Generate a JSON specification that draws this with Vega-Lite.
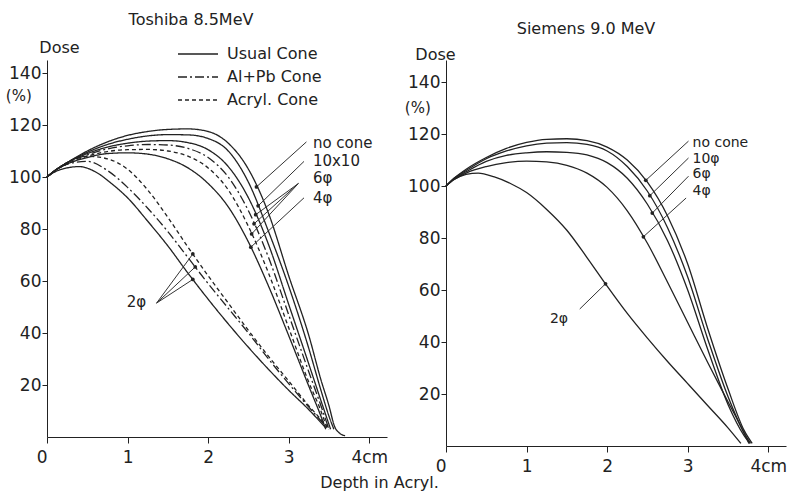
{
  "$schema": "https://vega.github.io/schema/vega-lite/v6.json",
  "background": "white",
  "padding": {"left": 5, "top": 12, "right": 5, "bottom": 5},
  "bounds": "flush",
  "spacing": 59,
  "config": {
    "font": "DejaVu Sans",
    "view": {"stroke": null},
    "axis": {"domainColor": "#222", "tickColor": "#222", "labelColor": "#222", "titleColor": "#222", "grid": false, "labelFont": "DejaVu Sans", "titleFont": "DejaVu Sans"},
    "title": {"color": "#222", "fontWeight": "normal", "fontSize": 16, "font": "DejaVu Sans"},
    "text": {"color": "#222", "font": "DejaVu Sans"}
  },
  "datasets": {
    "tosh": [
      {"curve":"nc","cone":"Usual Cone","d":0,"v":100},{"curve":"nc","cone":"Usual Cone","d":0.1,"v":102.5},{"curve":"nc","cone":"Usual Cone","d":0.25,"v":105.5},{"curve":"nc","cone":"Usual Cone","d":0.5,"v":110},{"curve":"nc","cone":"Usual Cone","d":0.75,"v":113.5},{"curve":"nc","cone":"Usual Cone","d":1,"v":116},{"curve":"nc","cone":"Usual Cone","d":1.25,"v":117.5},{"curve":"nc","cone":"Usual Cone","d":1.5,"v":118.3},{"curve":"nc","cone":"Usual Cone","d":1.75,"v":118.5},{"curve":"nc","cone":"Usual Cone","d":2,"v":117.5},{"curve":"nc","cone":"Usual Cone","d":2.25,"v":113},{"curve":"nc","cone":"Usual Cone","d":2.5,"v":103},{"curve":"nc","cone":"Usual Cone","d":2.75,"v":86},{"curve":"nc","cone":"Usual Cone","d":3,"v":62},{"curve":"nc","cone":"Usual Cone","d":3.25,"v":39},{"curve":"nc","cone":"Usual Cone","d":3.4,"v":22},{"curve":"nc","cone":"Usual Cone","d":3.5,"v":12},{"curve":"nc","cone":"Usual Cone","d":3.57,"v":4},{"curve":"nc","cone":"Usual Cone","d":3.63,"v":1.5},{"curve":"nc","cone":"Usual Cone","d":3.7,"v":0.5},
      {"curve":"10","cone":"Usual Cone","d":0,"v":100},{"curve":"10","cone":"Usual Cone","d":0.1,"v":102.5},{"curve":"10","cone":"Usual Cone","d":0.25,"v":105.5},{"curve":"10","cone":"Usual Cone","d":0.5,"v":109.5},{"curve":"10","cone":"Usual Cone","d":0.75,"v":112.5},{"curve":"10","cone":"Usual Cone","d":1,"v":114.5},{"curve":"10","cone":"Usual Cone","d":1.25,"v":115.8},{"curve":"10","cone":"Usual Cone","d":1.5,"v":116.3},{"curve":"10","cone":"Usual Cone","d":1.75,"v":116.2},{"curve":"10","cone":"Usual Cone","d":2,"v":114.8},{"curve":"10","cone":"Usual Cone","d":2.25,"v":110},{"curve":"10","cone":"Usual Cone","d":2.5,"v":98},{"curve":"10","cone":"Usual Cone","d":2.75,"v":79},{"curve":"10","cone":"Usual Cone","d":3,"v":58},{"curve":"10","cone":"Usual Cone","d":3.25,"v":34},{"curve":"10","cone":"Usual Cone","d":3.4,"v":18},{"curve":"10","cone":"Usual Cone","d":3.5,"v":8},{"curve":"10","cone":"Usual Cone","d":3.56,"v":3},
      {"curve":"6U","cone":"Usual Cone","d":0,"v":100},{"curve":"6U","cone":"Usual Cone","d":0.1,"v":102.5},{"curve":"6U","cone":"Usual Cone","d":0.25,"v":105.5},{"curve":"6U","cone":"Usual Cone","d":0.5,"v":109},{"curve":"6U","cone":"Usual Cone","d":0.75,"v":111.5},{"curve":"6U","cone":"Usual Cone","d":1,"v":113},{"curve":"6U","cone":"Usual Cone","d":1.25,"v":113.8},{"curve":"6U","cone":"Usual Cone","d":1.5,"v":114},{"curve":"6U","cone":"Usual Cone","d":1.75,"v":113.2},{"curve":"6U","cone":"Usual Cone","d":2,"v":110.5},{"curve":"6U","cone":"Usual Cone","d":2.25,"v":104},{"curve":"6U","cone":"Usual Cone","d":2.5,"v":92},{"curve":"6U","cone":"Usual Cone","d":2.75,"v":74},{"curve":"6U","cone":"Usual Cone","d":3,"v":51},{"curve":"6U","cone":"Usual Cone","d":3.25,"v":28},{"curve":"6U","cone":"Usual Cone","d":3.4,"v":14},{"curve":"6U","cone":"Usual Cone","d":3.52,"v":3},
      {"curve":"6A","cone":"Al+Pb Cone","d":0,"v":100},{"curve":"6A","cone":"Al+Pb Cone","d":0.1,"v":102.5},{"curve":"6A","cone":"Al+Pb Cone","d":0.25,"v":105.5},{"curve":"6A","cone":"Al+Pb Cone","d":0.5,"v":108.5},{"curve":"6A","cone":"Al+Pb Cone","d":0.75,"v":110.8},{"curve":"6A","cone":"Al+Pb Cone","d":1,"v":112},{"curve":"6A","cone":"Al+Pb Cone","d":1.25,"v":112.5},{"curve":"6A","cone":"Al+Pb Cone","d":1.5,"v":112.3},{"curve":"6A","cone":"Al+Pb Cone","d":1.75,"v":111},{"curve":"6A","cone":"Al+Pb Cone","d":2,"v":107.5},{"curve":"6A","cone":"Al+Pb Cone","d":2.25,"v":100},{"curve":"6A","cone":"Al+Pb Cone","d":2.5,"v":87},{"curve":"6A","cone":"Al+Pb Cone","d":2.75,"v":69},{"curve":"6A","cone":"Al+Pb Cone","d":3,"v":47},{"curve":"6A","cone":"Al+Pb Cone","d":3.25,"v":25},{"curve":"6A","cone":"Al+Pb Cone","d":3.4,"v":12},{"curve":"6A","cone":"Al+Pb Cone","d":3.5,"v":3},
      {"curve":"6R","cone":"Acryl. Cone","d":0,"v":100},{"curve":"6R","cone":"Acryl. Cone","d":0.1,"v":102.5},{"curve":"6R","cone":"Acryl. Cone","d":0.25,"v":105},{"curve":"6R","cone":"Acryl. Cone","d":0.5,"v":108},{"curve":"6R","cone":"Acryl. Cone","d":0.75,"v":109.8},{"curve":"6R","cone":"Acryl. Cone","d":1,"v":110.5},{"curve":"6R","cone":"Acryl. Cone","d":1.25,"v":110.6},{"curve":"6R","cone":"Acryl. Cone","d":1.5,"v":110},{"curve":"6R","cone":"Acryl. Cone","d":1.75,"v":108},{"curve":"6R","cone":"Acryl. Cone","d":2,"v":103.5},{"curve":"6R","cone":"Acryl. Cone","d":2.25,"v":95},{"curve":"6R","cone":"Acryl. Cone","d":2.5,"v":81},{"curve":"6R","cone":"Acryl. Cone","d":2.75,"v":63},{"curve":"6R","cone":"Acryl. Cone","d":3,"v":42},{"curve":"6R","cone":"Acryl. Cone","d":3.25,"v":21},{"curve":"6R","cone":"Acryl. Cone","d":3.4,"v":10},{"curve":"6R","cone":"Acryl. Cone","d":3.48,"v":3},
      {"curve":"4U","cone":"Usual Cone","d":0,"v":100},{"curve":"4U","cone":"Usual Cone","d":0.1,"v":102.5},{"curve":"4U","cone":"Usual Cone","d":0.25,"v":105},{"curve":"4U","cone":"Usual Cone","d":0.5,"v":107.5},{"curve":"4U","cone":"Usual Cone","d":0.75,"v":109},{"curve":"4U","cone":"Usual Cone","d":1,"v":109.3},{"curve":"4U","cone":"Usual Cone","d":1.25,"v":108.8},{"curve":"4U","cone":"Usual Cone","d":1.5,"v":107},{"curve":"4U","cone":"Usual Cone","d":1.75,"v":103.5},{"curve":"4U","cone":"Usual Cone","d":2,"v":97.5},{"curve":"4U","cone":"Usual Cone","d":2.25,"v":88.5},{"curve":"4U","cone":"Usual Cone","d":2.5,"v":75},{"curve":"4U","cone":"Usual Cone","d":2.75,"v":58},{"curve":"4U","cone":"Usual Cone","d":3,"v":39},{"curve":"4U","cone":"Usual Cone","d":3.25,"v":19.5},{"curve":"4U","cone":"Usual Cone","d":3.4,"v":8},{"curve":"4U","cone":"Usual Cone","d":3.46,"v":3},
      {"curve":"2U","cone":"Usual Cone","d":0,"v":100},{"curve":"2U","cone":"Usual Cone","d":0.1,"v":102},{"curve":"2U","cone":"Usual Cone","d":0.25,"v":103.5},{"curve":"2U","cone":"Usual Cone","d":0.4,"v":104},{"curve":"2U","cone":"Usual Cone","d":0.6,"v":102},{"curve":"2U","cone":"Usual Cone","d":0.8,"v":97.5},{"curve":"2U","cone":"Usual Cone","d":1,"v":92},{"curve":"2U","cone":"Usual Cone","d":1.25,"v":83},{"curve":"2U","cone":"Usual Cone","d":1.5,"v":73.5},{"curve":"2U","cone":"Usual Cone","d":1.75,"v":63},{"curve":"2U","cone":"Usual Cone","d":2,"v":53},{"curve":"2U","cone":"Usual Cone","d":2.25,"v":43.5},{"curve":"2U","cone":"Usual Cone","d":2.5,"v":34.5},{"curve":"2U","cone":"Usual Cone","d":2.75,"v":26},{"curve":"2U","cone":"Usual Cone","d":3,"v":18},{"curve":"2U","cone":"Usual Cone","d":3.25,"v":10.5},{"curve":"2U","cone":"Usual Cone","d":3.46,"v":3.5},
      {"curve":"2A","cone":"Al+Pb Cone","d":0,"v":100},{"curve":"2A","cone":"Al+Pb Cone","d":0.1,"v":102.5},{"curve":"2A","cone":"Al+Pb Cone","d":0.25,"v":105},{"curve":"2A","cone":"Al+Pb Cone","d":0.5,"v":106},{"curve":"2A","cone":"Al+Pb Cone","d":0.75,"v":102.5},{"curve":"2A","cone":"Al+Pb Cone","d":1,"v":96},{"curve":"2A","cone":"Al+Pb Cone","d":1.25,"v":88},{"curve":"2A","cone":"Al+Pb Cone","d":1.5,"v":79},{"curve":"2A","cone":"Al+Pb Cone","d":1.75,"v":69},{"curve":"2A","cone":"Al+Pb Cone","d":2,"v":59},{"curve":"2A","cone":"Al+Pb Cone","d":2.25,"v":49.5},{"curve":"2A","cone":"Al+Pb Cone","d":2.5,"v":40},{"curve":"2A","cone":"Al+Pb Cone","d":2.75,"v":30},{"curve":"2A","cone":"Al+Pb Cone","d":3,"v":20.5},{"curve":"2A","cone":"Al+Pb Cone","d":3.25,"v":11.5},{"curve":"2A","cone":"Al+Pb Cone","d":3.48,"v":3.5},
      {"curve":"2R","cone":"Acryl. Cone","d":0,"v":100},{"curve":"2R","cone":"Acryl. Cone","d":0.1,"v":102.5},{"curve":"2R","cone":"Acryl. Cone","d":0.25,"v":105.5},{"curve":"2R","cone":"Acryl. Cone","d":0.5,"v":108},{"curve":"2R","cone":"Acryl. Cone","d":0.75,"v":107},{"curve":"2R","cone":"Acryl. Cone","d":1,"v":103},{"curve":"2R","cone":"Acryl. Cone","d":1.25,"v":95},{"curve":"2R","cone":"Acryl. Cone","d":1.5,"v":84.5},{"curve":"2R","cone":"Acryl. Cone","d":1.75,"v":73},{"curve":"2R","cone":"Acryl. Cone","d":2,"v":62},{"curve":"2R","cone":"Acryl. Cone","d":2.25,"v":51.5},{"curve":"2R","cone":"Acryl. Cone","d":2.5,"v":41},{"curve":"2R","cone":"Acryl. Cone","d":2.75,"v":31},{"curve":"2R","cone":"Acryl. Cone","d":3,"v":21.5},{"curve":"2R","cone":"Acryl. Cone","d":3.25,"v":12},{"curve":"2R","cone":"Acryl. Cone","d":3.5,"v":3.5}
    ],
    "toshLead": [
      {"d":2.6,"v":96.2,"d2":3.22,"v2":113.5},
      {"d":2.62,"v":88.9,"d2":3.19,"v2":106},
      {"d":2.59,"v":85.5,"d2":3.12,"v2":97.5},
      {"d":2.57,"v":82,"d2":3.12,"v2":97.5},
      {"d":2.54,"v":78.1,"d2":3.12,"v2":97.5},
      {"d":2.53,"v":73,"d2":3.19,"v2":92},
      {"d":1.81,"v":60.6,"d2":1.36,"v2":51.5},
      {"d":1.84,"v":65.4,"d2":1.36,"v2":51.5},
      {"d":1.81,"v":70.4,"d2":1.36,"v2":51.5}
    ],
    "toshText": [
      {"d":3.3,"v":113,"t":"no cone"},
      {"d":3.3,"v":106,"t":"10x10"},
      {"d":3.3,"v":99.5,"t":"6φ"},
      {"d":3.3,"v":92,"t":"4φ"},
      {"d":0.99,"v":52,"t":"2φ"}
    ],
    "siem": [
      {"curve":"nc","d":0,"v":100},{"curve":"nc","d":0.1,"v":103},{"curve":"nc","d":0.25,"v":106.5},{"curve":"nc","d":0.5,"v":111},{"curve":"nc","d":0.75,"v":114.5},{"curve":"nc","d":1,"v":116.8},{"curve":"nc","d":1.25,"v":118},{"curve":"nc","d":1.5,"v":118.2},{"curve":"nc","d":1.75,"v":117.5},{"curve":"nc","d":2,"v":115},{"curve":"nc","d":2.25,"v":110},{"curve":"nc","d":2.5,"v":101.5},{"curve":"nc","d":2.75,"v":88.5},{"curve":"nc","d":3,"v":70},{"curve":"nc","d":3.25,"v":45},{"curve":"nc","d":3.5,"v":22},{"curve":"nc","d":3.7,"v":6},{"curve":"nc","d":3.8,"v":1},
      {"curve":"10","d":0,"v":100},{"curve":"10","d":0.1,"v":103},{"curve":"10","d":0.25,"v":106},{"curve":"10","d":0.5,"v":110.5},{"curve":"10","d":0.75,"v":113.5},{"curve":"10","d":1,"v":115.5},{"curve":"10","d":1.25,"v":116.5},{"curve":"10","d":1.5,"v":116.7},{"curve":"10","d":1.75,"v":116},{"curve":"10","d":2,"v":113.5},{"curve":"10","d":2.25,"v":107.5},{"curve":"10","d":2.5,"v":98},{"curve":"10","d":2.75,"v":84},{"curve":"10","d":3,"v":65},{"curve":"10","d":3.25,"v":41},{"curve":"10","d":3.5,"v":19},{"curve":"10","d":3.7,"v":5},{"curve":"10","d":3.78,"v":1},
      {"curve":"6","d":0,"v":100},{"curve":"6","d":0.1,"v":102.8},{"curve":"6","d":0.25,"v":105.5},{"curve":"6","d":0.5,"v":109.5},{"curve":"6","d":0.75,"v":111.8},{"curve":"6","d":1,"v":112.8},{"curve":"6","d":1.25,"v":113.2},{"curve":"6","d":1.5,"v":113},{"curve":"6","d":1.75,"v":112},{"curve":"6","d":2,"v":109},{"curve":"6","d":2.25,"v":103},{"curve":"6","d":2.5,"v":93},{"curve":"6","d":2.75,"v":79},{"curve":"6","d":3,"v":60},{"curve":"6","d":3.25,"v":37},{"curve":"6","d":3.5,"v":16},{"curve":"6","d":3.7,"v":4},{"curve":"6","d":3.77,"v":1},
      {"curve":"4","d":0,"v":100},{"curve":"4","d":0.1,"v":102.5},{"curve":"4","d":0.25,"v":105},{"curve":"4","d":0.5,"v":107.5},{"curve":"4","d":0.75,"v":109},{"curve":"4","d":1,"v":109.6},{"curve":"4","d":1.25,"v":109.3},{"curve":"4","d":1.5,"v":108},{"curve":"4","d":1.75,"v":105},{"curve":"4","d":2,"v":99.5},{"curve":"4","d":2.25,"v":90.5},{"curve":"4","d":2.5,"v":78},{"curve":"4","d":2.75,"v":63},{"curve":"4","d":3,"v":47.5},{"curve":"4","d":3.25,"v":32},{"curve":"4","d":3.5,"v":17},{"curve":"4","d":3.7,"v":5},{"curve":"4","d":3.76,"v":1},
      {"curve":"2","d":0,"v":100},{"curve":"2","d":0.1,"v":102.5},{"curve":"2","d":0.25,"v":104.5},{"curve":"2","d":0.4,"v":105},{"curve":"2","d":0.6,"v":103.5},{"curve":"2","d":0.8,"v":101},{"curve":"2","d":1,"v":97.5},{"curve":"2","d":1.25,"v":91},{"curve":"2","d":1.5,"v":83},{"curve":"2","d":1.75,"v":72.5},{"curve":"2","d":2,"v":61.5},{"curve":"2","d":2.25,"v":51},{"curve":"2","d":2.5,"v":41.5},{"curve":"2","d":2.75,"v":32.5},{"curve":"2","d":3,"v":24},{"curve":"2","d":3.25,"v":15.5},{"curve":"2","d":3.5,"v":7},{"curve":"2","d":3.66,"v":1}
    ],
    "siemLead": [
      {"d":2.48,"v":102.2,"d2":3.01,"v2":117.3},
      {"d":2.53,"v":96.3,"d2":3.01,"v2":110.8},
      {"d":2.56,"v":89.6,"d2":3.01,"v2":103.8},
      {"d":2.45,"v":80.5,"d2":2.98,"v2":95.4},
      {"d":1.98,"v":62.4,"d2":1.66,"v2":52.7}
    ],
    "siemText": [
      {"d":3.06,"v":116.5,"t":"no cone"},
      {"d":3.06,"v":110.5,"t":"10φ"},
      {"d":3.06,"v":104.5,"t":"6φ"},
      {"d":3.06,"v":98,"t":"4φ"},
      {"d":1.29,"v":48.8,"t":"2φ"}
    ],
    "toshPct": [{"d":-0.35,"v":131,"t":"(%)"}],
    "siemPct": [{"d":-0.35,"v":130,"t":"(%)"}]
  },
  "hconcat": [
    {
      "width": 340,
      "height": 377,
      "title": {"text": "Toshiba  8.5MeV", "frame": "group", "anchor": "middle", "dx": -26, "offset": 11},
      "layer": [
        {
          "data": {"name": "tosh"},
          "mark": {"type": "line", "interpolate": "monotone", "strokeWidth": 1.3, "color": "#222"},
          "encoding": {
            "x": {"field": "d", "type": "quantitative", "scale": {"domain": [0, 4.22], "nice": false, "zero": false},
              "axis": {"values": [0, 1, 2, 3, 4], "format": "d", "labelExpr": "datum.value == 4 ? '4cm' : datum.label", "labelAlign": {"condition": {"test": "datum.value == 0", "value": "right"}, "value": "center"}, "labelFontSize": 17, "labelPadding": 6, "tickSize": 6, "title": "Depth in Acryl.", "titleX": 332, "titleY": 50, "titleFontSize": 16, "titleFontWeight": "normal", "titleBaseline": "alphabetic"}},
            "y": {"field": "v", "type": "quantitative", "scale": {"domain": [0, 145], "nice": false},
              "axis": {"values": [20, 40, 60, 80, 100, 120, 140], "labelFontSize": 17, "labelPadding": 1, "tickSize": 5, "title": "Dose", "titleAngle": 0, "titleX": 12, "titleY": -8, "titleAlign": "center", "titleBaseline": "alphabetic", "titleFontSize": 16, "titleFontWeight": "normal"}},
            "detail": {"field": "curve"},
            "strokeDash": {"field": "cone", "type": "nominal",
              "scale": {"domain": ["Usual Cone", "Al+Pb Cone", "Acryl. Cone"], "range": [[1, 0], [9, 3, 2, 3], [4, 3]]},
              "legend": {"orient": "none", "legendX": 140, "legendY": -17, "title": null, "symbolType": "M-2,0H2", "symbolSize": 400, "symbolStrokeWidth": 1.3, "symbolStrokeColor": "#222", "symbolFillColor": "transparent", "labelFontSize": 16, "labelColor": "#222", "labelOffset": 18, "rowPadding": 4}}
          }
        },
        {
          "data": {"name": "toshLead"},
          "mark": {"type": "rule", "strokeWidth": 1, "color": "#333"},
          "encoding": {"x": {"field": "d", "type": "quantitative"}, "y": {"field": "v", "type": "quantitative"}, "x2": {"field": "d2"}, "y2": {"field": "v2"}}
        },
        {
          "data": {"name": "toshLead"},
          "mark": {"type": "point", "filled": true, "size": 14, "color": "#222", "opacity": 1},
          "encoding": {"x": {"field": "d", "type": "quantitative"}, "y": {"field": "v", "type": "quantitative"}}
        },
        {
          "data": {"name": "toshText"},
          "mark": {"type": "text", "align": "left", "baseline": "middle", "fontSize": 15},
          "encoding": {"x": {"field": "d", "type": "quantitative"}, "y": {"field": "v", "type": "quantitative"}, "text": {"field": "t"}}
        },
        {
          "data": {"name": "toshPct"},
          "mark": {"type": "text", "align": "center", "baseline": "middle", "fontSize": 15},
          "encoding": {"x": {"field": "d", "type": "quantitative"}, "y": {"field": "v", "type": "quantitative"}, "text": {"field": "t"}}
        }
      ]
    },
    {
      "width": 340,
      "height": 386,
      "title": {"text": "Siemens  9.0 MeV", "frame": "group", "anchor": "middle", "dx": -30, "offset": 9},
      "layer": [
        {
          "data": {"name": "siem"},
          "mark": {"type": "line", "interpolate": "monotone", "strokeWidth": 1.3, "color": "#222"},
          "encoding": {
            "x": {"field": "d", "type": "quantitative", "scale": {"domain": [0, 4.22], "nice": false, "zero": false},
              "axis": {"values": [0, 1, 2, 3, 4], "format": "d", "labelExpr": "datum.value == 4 ? '4cm' : datum.label", "labelAlign": {"condition": {"test": "datum.value == 0", "value": "right"}, "value": "center"}, "labelFontSize": 17, "labelPadding": 6, "tickSize": 6, "title": null}},
            "y": {"field": "v", "type": "quantitative", "scale": {"domain": [0, 148.5], "nice": false},
              "axis": {"values": [20, 40, 60, 80, 100, 120, 140], "labelFontSize": 17, "labelPadding": 1, "tickSize": 5, "title": "Dose", "titleAngle": 0, "titleX": -11, "titleY": -1, "titleAlign": "center", "titleBaseline": "alphabetic", "titleFontSize": 16, "titleFontWeight": "normal"}},
            "detail": {"field": "curve"}
          }
        },
        {
          "data": {"name": "siemLead"},
          "mark": {"type": "rule", "strokeWidth": 1, "color": "#333"},
          "encoding": {"x": {"field": "d", "type": "quantitative"}, "y": {"field": "v", "type": "quantitative"}, "x2": {"field": "d2"}, "y2": {"field": "v2"}}
        },
        {
          "data": {"name": "siemLead"},
          "mark": {"type": "point", "filled": true, "size": 14, "color": "#222", "opacity": 1},
          "encoding": {"x": {"field": "d", "type": "quantitative"}, "y": {"field": "v", "type": "quantitative"}}
        },
        {
          "data": {"name": "siemText"},
          "mark": {"type": "text", "align": "left", "baseline": "middle", "fontSize": 14},
          "encoding": {"x": {"field": "d", "type": "quantitative"}, "y": {"field": "v", "type": "quantitative"}, "text": {"field": "t"}}
        },
        {
          "data": {"name": "siemPct"},
          "mark": {"type": "text", "align": "center", "baseline": "middle", "fontSize": 15},
          "encoding": {"x": {"field": "d", "type": "quantitative"}, "y": {"field": "v", "type": "quantitative"}, "text": {"field": "t"}}
        }
      ]
    }
  ]
}
